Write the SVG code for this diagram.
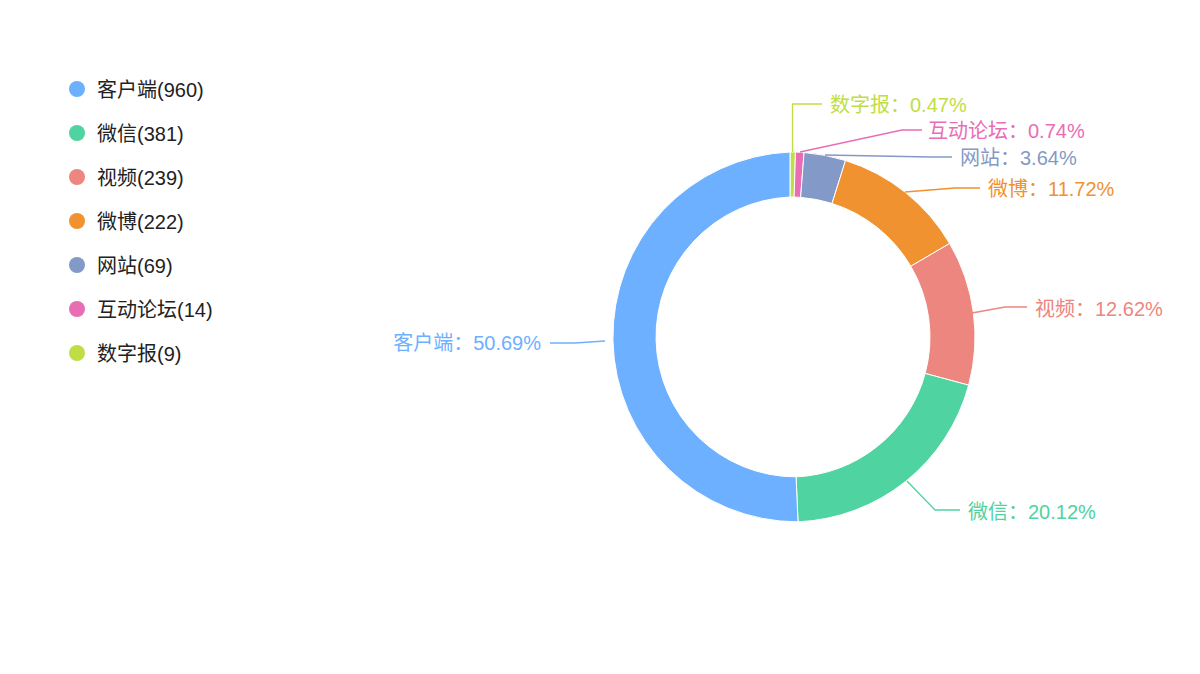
<svg xmlns="http://www.w3.org/2000/svg" width="1200" height="674" viewBox="0 0 1200 674">
<style>
text{font-family:"Liberation Sans","Noto Sans CJK SC",sans-serif;font-size:20px}
.lg{fill:#222}
.ln{fill:none;stroke-width:1.3}
.seg{stroke:#fff;stroke-width:1}
</style>
<rect width="1200" height="674" fill="#fff"/>
<g id="legend">
<circle cx="77" cy="89" r="8" fill="#6DB0FF"/><text class="lg" x="97" y="97">客户端(960)</text>
<circle cx="77" cy="133" r="8" fill="#4FD3A0"/><text class="lg" x="97" y="141">微信(381)</text>
<circle cx="77" cy="177" r="8" fill="#EC867E"/><text class="lg" x="97" y="185">视频(239)</text>
<circle cx="77" cy="221" r="8" fill="#F0922F"/><text class="lg" x="97" y="229">微博(222)</text>
<circle cx="77" cy="265" r="8" fill="#8399C7"/><text class="lg" x="97" y="273">网站(69)</text>
<circle cx="77" cy="309" r="8" fill="#E86DB5"/><text class="lg" x="97" y="317">互动论坛(14)</text>
<circle cx="77" cy="353" r="8" fill="#BFDE45"/><text class="lg" x="97" y="361">数字报(9)</text>
</g>
<g id="donut">
<path id="s-szb" class="seg" fill="#BFDE45" d="M790,152 A185,185 0 0 1 795.46,152.08 L794.13,197.06 A140,140 0 0 0 790,197 Z"/>
<path id="s-hdlt" class="seg" fill="#E86DB5" d="M795.46,152.08 A185,185 0 0 1 804.05,152.53 L800.63,197.4 A140,140 0 0 0 794.13,197.06 Z"/>
<path id="s-wz" class="seg" fill="#8399C7" d="M804.05,152.53 A185,185 0 0 1 845.51,160.52 L832.01,203.45 A140,140 0 0 0 800.63,197.4 Z"/>
<path id="s-wb" class="seg" fill="#F0922F" d="M845.51,160.52 A185,185 0 0 1 949.63,243.5 L910.8,266.24 A140,140 0 0 0 832.01,203.45 Z"/>
<path id="s-sp" class="seg" fill="#EC867E" d="M949.63,243.5 A185,185 0 0 1 968.63,385.14 L925.18,373.43 A140,140 0 0 0 910.8,266.24 Z"/>
<path id="s-wx" class="seg" fill="#4FD3A0" d="M968.63,385.14 A185,185 0 0 1 798.02,521.83 L796.07,476.87 A140,140 0 0 0 925.18,373.43 Z"/>
<path id="s-khd" class="seg" fill="#6DB0FF" d="M798.02,521.83 A185,185 0 0 1 790,152 L790,197 A140,140 0 0 0 796.07,476.87 Z"/>
</g>
<g id="connectors">
<polyline class="ln" stroke="#BFDE45" points="792.5,152 792.5,104 822,104"/>
<polyline class="ln" stroke="#E86DB5" points="800,152 902,130 922,130"/>
<polyline class="ln" stroke="#8399C7" points="825,155 930,157 952,157"/>
<polyline class="ln" stroke="#F0922F" points="905,192 955,188 980,188"/>
<polyline class="ln" stroke="#EC867E" points="972,313 1005,307 1027,307"/>
<polyline class="ln" stroke="#4FD3A0" points="907,481 935,510 960,510"/>
<polyline class="ln" stroke="#6DB0FF" points="605,341 575,343 550,343"/>
</g>
<g id="labels">
<text x="830" y="112" fill="#BFDE45">数字报：0.47%</text>
<text x="928" y="138" fill="#E86DB5">互动论坛：0.74%</text>
<text x="960" y="165" fill="#8399C7">网站：3.64%</text>
<text x="988" y="196" fill="#F0922F">微博：11.72%</text>
<text x="1035" y="316" fill="#EC867E">视频：12.62%</text>
<text x="968" y="519" fill="#4FD3A0">微信：20.12%</text>
<text x="541" y="350" fill="#6DB0FF" text-anchor="end">客户端：50.69%</text>
</g>
</svg>
